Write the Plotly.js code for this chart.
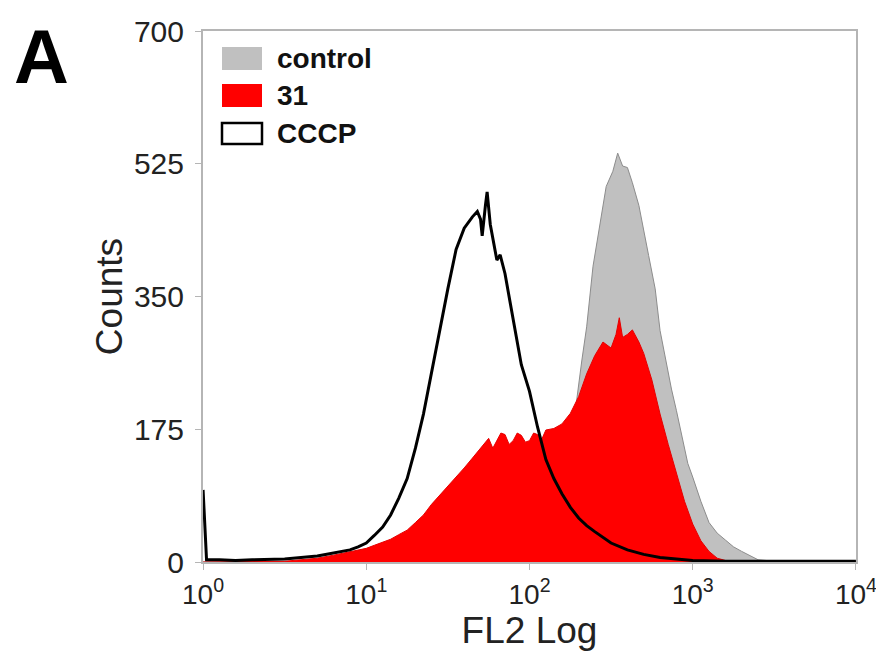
<!DOCTYPE html>
<html>
<head>
<meta charset="utf-8">
<script src="https://cdn.plot.ly/plotly-3.0.1.min.js"></script>
<style>html,body{margin:0;padding:0;background:#fff;}#chart{width:876px;height:658px;}</style>
</head>
<body>
<div id="chart"></div>
<script>
// FL2 channel values (log scale) and counts
const controlX = [1, 10, 25.1, 31.6, 39.8, 50.1, 63.1, 79.4, 100, 112, 126, 141, 158, 178, 191, 209, 224, 245, 269, 295, 324, 347, 372, 398, 427, 468, 537, 589, 631, 676, 741, 794, 851, 933, 1000, 1122, 1259, 1413, 1585, 1778, 1995, 2239, 2512, 3162, 10000];
const controlY = [0, 0, 1, 2, 5, 8, 14, 22, 35, 48, 65, 90, 125, 172, 200, 265, 310, 390, 440, 495, 515, 539, 522, 520, 500, 470, 404, 360, 305, 270, 228, 200, 170, 130, 112, 80, 52, 38, 29, 20, 14, 8, 3, 1, 0];

const red31X = [1, 3.16, 3.98, 5.01, 6.31, 7.94, 10, 11.2, 12.6, 14.1, 15.8, 17.8, 20, 22.4, 25.1, 28.2, 31.6, 35.5, 39.8, 44.7, 50.1, 56.2, 59.6, 63.1, 66.8, 70.8, 75, 79.4, 84.1, 89.1, 94.4, 100, 106, 112, 119, 126, 141, 158, 178, 200, 224, 251, 282, 316, 339, 355, 372, 398, 427, 468, 501, 562, 631, 708, 794, 891, 1000, 1122, 1259, 1413, 1585, 1995, 10000];
const red31Y = [0, 1, 3, 5, 9, 13, 18, 22, 26, 30, 36, 42, 52, 62, 76, 88, 100, 113, 124, 137, 150, 163, 150, 160, 170, 168, 155, 160, 170, 167, 158, 160, 170, 168, 162, 174, 176, 182, 196, 218, 248, 272, 290, 282, 300, 322, 296, 300, 306, 290, 275, 240, 195, 155, 118, 80, 50, 28, 14, 5, 2, 0, 0];

const cccpX = [1, 1.05, 1.26, 1.58, 2.0, 2.51, 3.16, 3.98, 5.01, 5.62, 6.31, 7.08, 7.94, 8.91, 10, 11.2, 12.6, 14.1, 15.8, 17.8, 20.0, 22.4, 25.1, 28.2, 31.6, 35.5, 39.8, 44.7, 47.9, 50.1, 51.3, 53.7, 55.0, 57.5, 60.3, 63.1, 66.1, 70.8, 79.4, 89.1, 100, 112, 126, 141, 158, 178, 200, 224, 251, 282, 316, 398, 501, 631, 794, 1000, 1585, 3162, 10000];
const cccpY = [95, 3, 3, 2, 3, 3, 4, 6, 8, 10, 12, 14, 16, 20, 25, 35, 46, 62, 84, 110, 150, 195, 250, 305, 360, 412, 440, 455, 462, 452, 430, 470, 488, 445, 420, 398, 405, 380, 320, 260, 225, 178, 135, 110, 90, 72, 58, 48, 40, 33, 25, 16, 10, 6, 4, 2, 1, 1, 1];

const seriesNames = ['control', '31', 'CCCP'];
const yTicks = [0, 175, 350, 525, 700];
const xTicks = [1, 10, 100, 1000, 10000];
const xTickText = ['10<sup>0</sup>', '10<sup>1</sup>', '10<sup>2</sup>', '10<sup>3</sup>', '10<sup>4</sup>'];

const font = 'Liberation Sans, Arial, sans-serif';

const traces = [
  {x: controlX, y: controlY, name: seriesNames[0], type: 'scatter', mode: 'lines',
   fill: 'tozeroy', fillcolor: '#c0c0c0', line: {color: '#8c8c8c', width: 1}},
  {x: red31X, y: red31Y, name: seriesNames[1], type: 'scatter', mode: 'lines',
   fill: 'tozeroy', fillcolor: '#ff0000', line: {color: '#e60000', width: 1}},
  {x: cccpX, y: cccpY, name: seriesNames[2], type: 'scatter', mode: 'lines',
   line: {color: '#000000', width: 3}}
];

const L = 203, T = 31, PW = 653, PH = 531;
const px = v => (v - L) / PW;
const py = v => (T + PH - v) / PH;

const legendBoxes = [
  {fill: '#c0c0c0', line: 'rgba(0,0,0,0)', y0: 47, y1: 70},
  {fill: '#ff0000', line: 'rgba(0,0,0,0)', y0: 84, y1: 107},
  {fill: '#ffffff', line: '#000000', y0: 123, y1: 144}
];
const shapes = legendBoxes.map(b => ({
  type: 'rect', xref: 'paper', yref: 'paper',
  x0: px(222), x1: px(262), y0: py(b.y1), y1: py(b.y0),
  fillcolor: b.fill, line: {color: b.line, width: 2.5}
}));

const annotations = seriesNames.map((n, i) => ({
  xref: 'paper', yref: 'paper', x: px(275), y: py((legendBoxes[i].y0 + legendBoxes[i].y1) / 2),
  xanchor: 'left', yanchor: 'middle', text: '<b>' + n + '</b>', showarrow: false,
  font: {family: font, size: 28, color: '#111'}
}));
annotations.push({
  xref: 'paper', yref: 'paper', x: px(12), y: py(12), xanchor: 'left', yanchor: 'top',
  text: '<b>A</b>', showarrow: false, font: {family: font, size: 76, color: '#000'}
});

const layout = {
  width: 876, height: 658,
  margin: {l: L, r: 876 - L - PW, t: T, b: 658 - T - PH},
  paper_bgcolor: '#fff', plot_bgcolor: '#fff',
  showlegend: false,
  font: {family: font, color: '#222'},
  xaxis: {
    type: 'log', range: [-0.0005, 4.0005], tickvals: xTicks, ticktext: xTickText,
    ticklabeloverflow: 'allow',
    showgrid: false, zeroline: false, showline: true, linecolor: '#b5b5b5', linewidth: 2, mirror: true,
    ticks: 'outside', ticklen: 6, tickcolor: '#b5b5b5', tickwidth: 1,
    tickfont: {family: font, size: 28, color: '#222'},
    title: {text: 'FL2 Log', font: {family: font, size: 37, color: '#222'}, standoff: 0}
  },
  yaxis: {
    range: [0, 700], tickvals: yTicks, showgrid: false, zeroline: false,
    showline: true, linecolor: '#b5b5b5', linewidth: 2, mirror: true,
    ticks: 'outside', ticklen: 6, tickcolor: '#b5b5b5', tickwidth: 1,
    ticklabelstandoff: 5, ticklabeloverflow: 'allow',
    tickfont: {family: font, size: 30, color: '#222'},
    title: {text: 'Counts', font: {family: font, size: 37, color: '#222'}, standoff: 0}
  },
  shapes: shapes,
  annotations: annotations
};

Plotly.newPlot('chart', traces, layout, {displayModeBar: false, staticPlot: true});
</script>
</body>
</html>
